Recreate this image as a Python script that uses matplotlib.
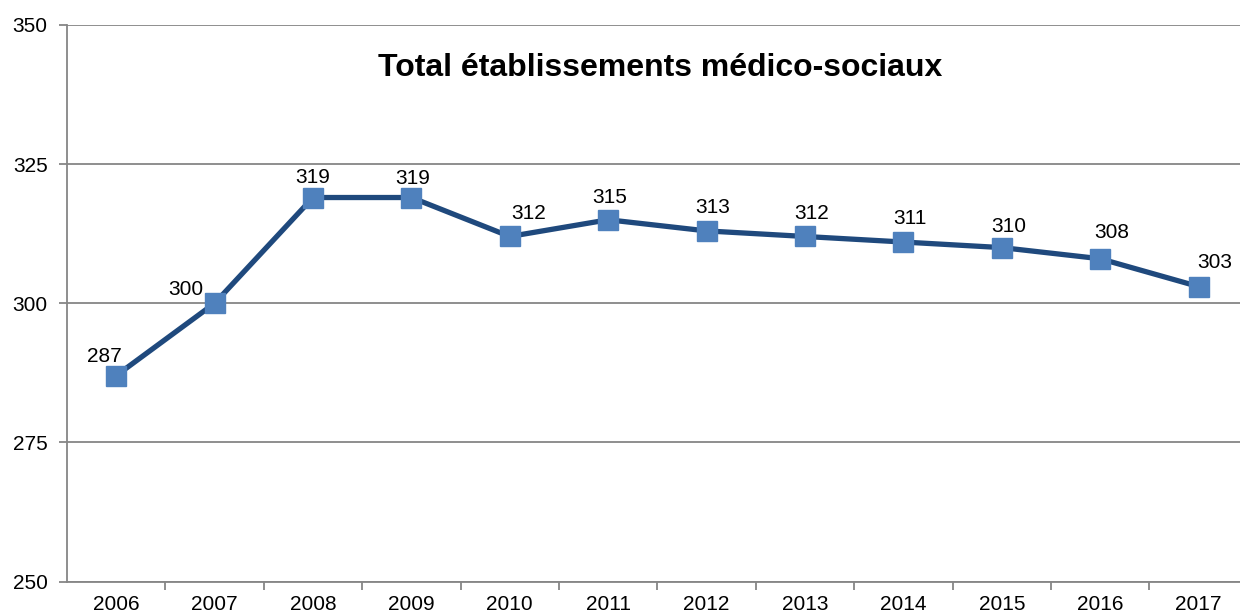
import matplotlib
matplotlib.use("Agg")
import matplotlib.pyplot as plt
from matplotlib.ticker import FixedLocator, NullFormatter

plt.rcParams['font.family'] = ['Liberation Sans', 'DejaVu Sans']

annees = ['2006', '2007', '2008', '2009', '2010', '2011', '2012', '2013', '2014', '2015', '2016', '2017']
total = [287, 300, 319, 319, 312, 315, 313, 312, 311, 310, 308, 303]
y_ticks = [250, 275, 300, 325, 350]
titre = 'Total établissements médico-sociaux'

# decalage des etiquettes (pixels) pour coller a la mise en page Excel
decalages = [(-12, 19), (-29, 14), (0, 20), (1, 19), (19, 23), (1, 22),
             (6, 23), (7, 23), (7, 24), (7, 21), (12, 26), (16, 24)]

W, H = 1240, 616
fig = plt.figure(figsize=(W / 100, H / 100), dpi=100)
gauche, haut, bas = 67, 25, 581.5
ax = fig.add_axes([gauche / W, (H - bas) / H, (W - gauche) / W, (bas - haut) / H])

x = list(range(len(annees)))
ax.plot(x, total, color='#1F497D', linewidth=3.8, marker='s', markersize=14.5,
        markerfacecolor='#4F81BD', markeredgecolor='#4F81BD', zorder=3)

for xi, v, (dx, dy) in zip(x, total, decalages):
    ax.annotate(str(v), (xi, v), xytext=(dx, dy), textcoords='offset pixels',
                ha='center', va='center', fontsize=15, color='black')

droite = -0.5 + (W - gauche) / 98.4
ax.set_xlim(-0.5, droite)
ax.set_ylim(250, 350)

ax.set_yticks(y_ticks)
ax.set_yticklabels([str(t) for t in y_ticks])
ax.grid(axis='y', color='#868686', linewidth=1.3)
ax.set_axisbelow(True)

ax.set_xticks(x)
ax.set_xticklabels(annees)
ax.xaxis.set_minor_locator(FixedLocator([i + 0.5 for i in range(len(annees))]))
ax.xaxis.set_minor_formatter(NullFormatter())
ax.tick_params(axis='x', which='major', length=0, labelsize=15, pad=10)
ax.tick_params(axis='x', which='minor', length=6, width=1.3, color='#868686', direction='out')
ax.tick_params(axis='y', length=6, width=1.3, color='#868686', labelsize=15, pad=8)

for s in ['top', 'right']:
    ax.spines[s].set_visible(False)
for s in ['left', 'bottom']:
    ax.spines[s].set_color('#868686')
    ax.spines[s].set_linewidth(1.3)

fig.text(660 / W, 1 - 68 / H, titre, ha='center', va='center', fontsize=23, fontweight='bold')

fig.savefig('out.png', dpi=100)
